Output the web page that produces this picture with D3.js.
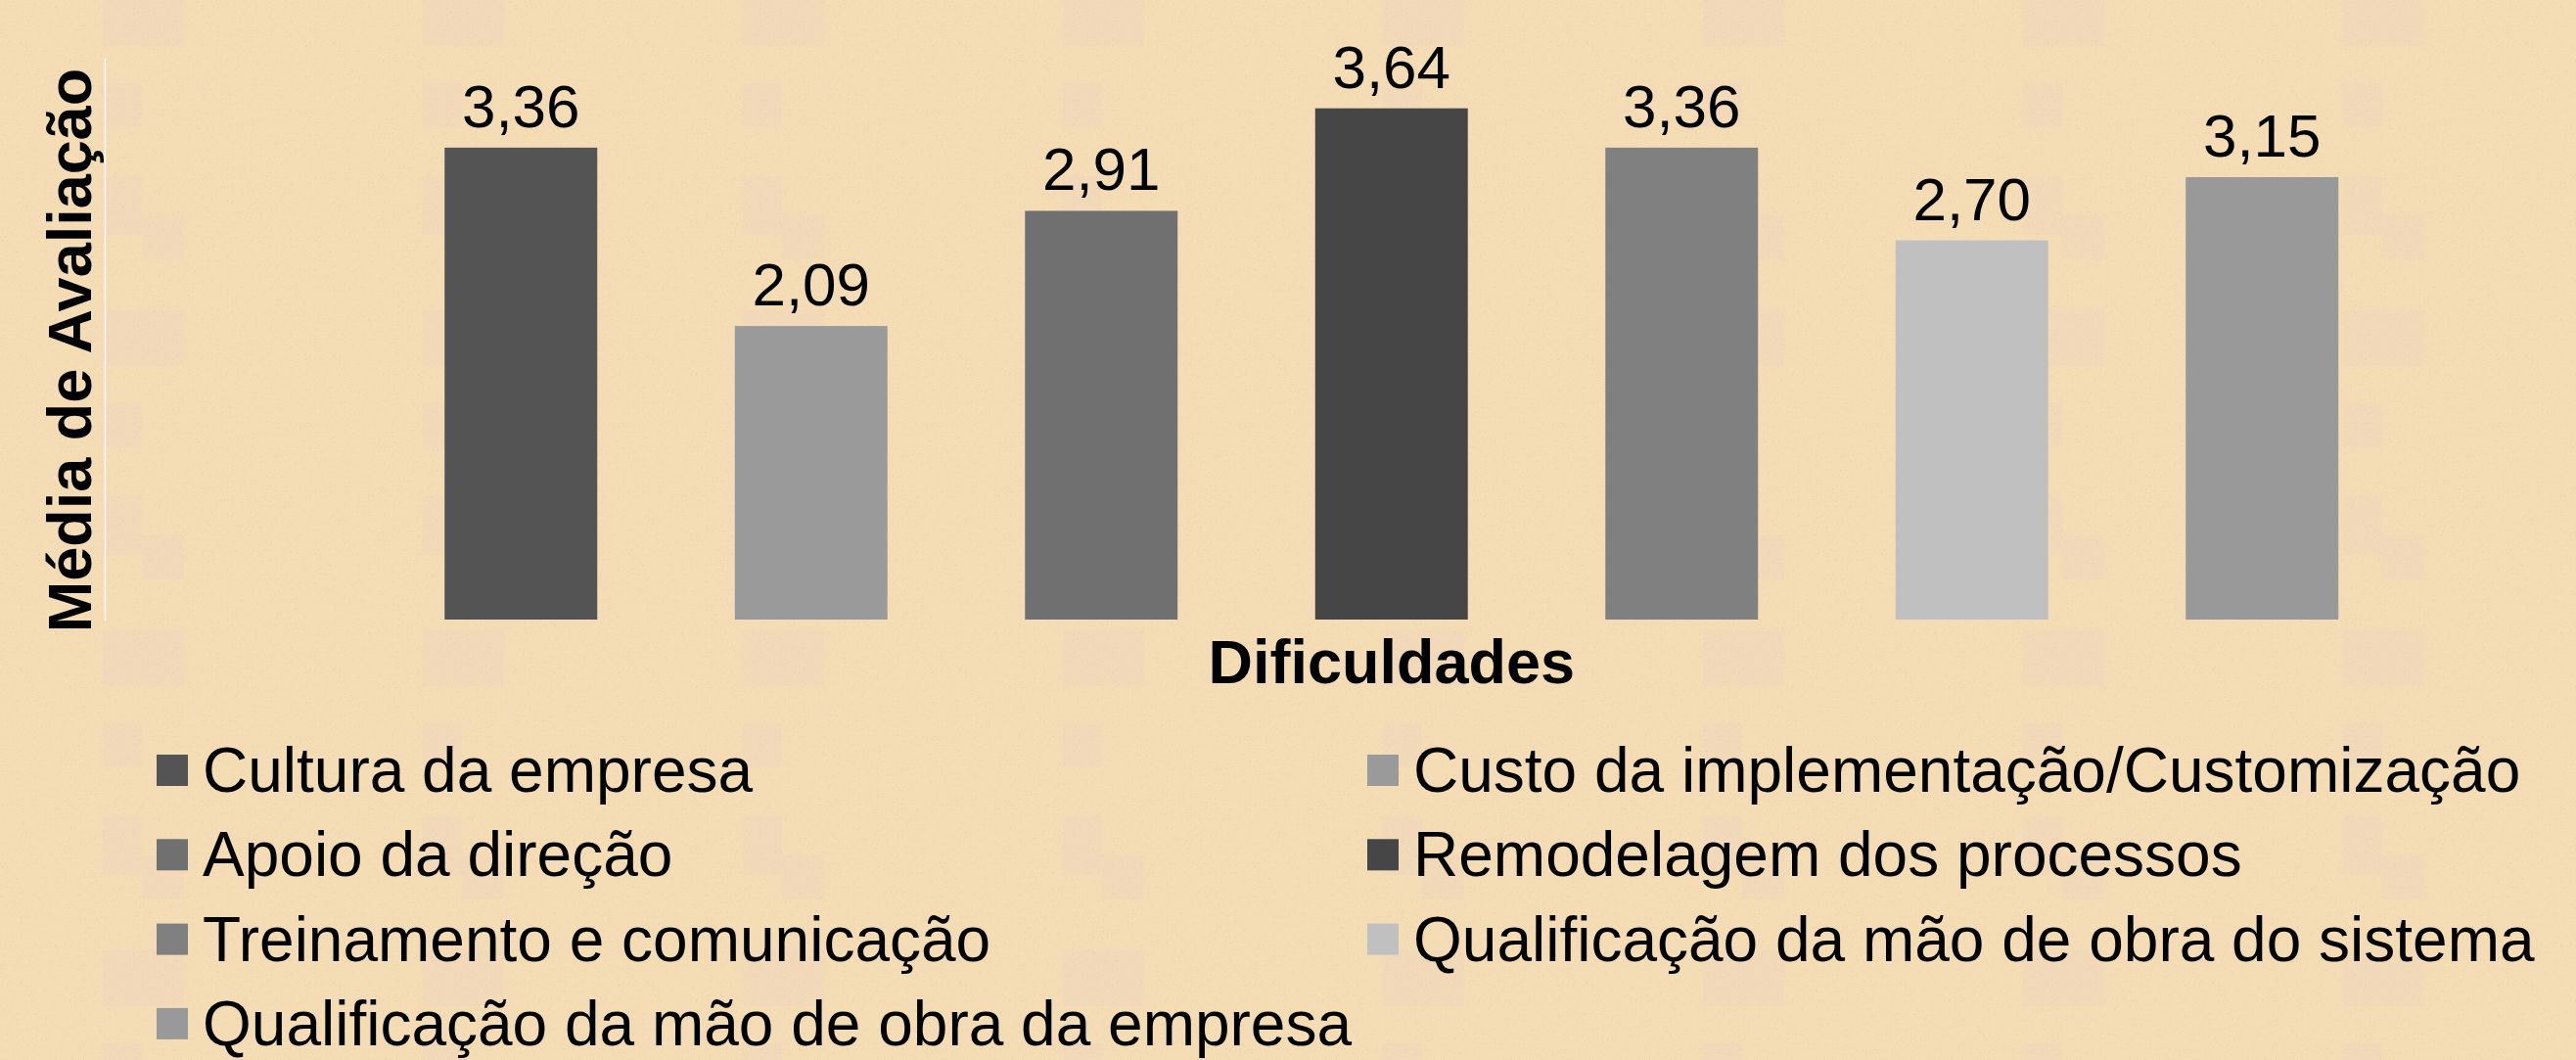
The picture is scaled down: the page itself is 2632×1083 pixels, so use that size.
<!DOCTYPE html>
<html>
<head>
<meta charset="utf-8">
<script src="https://cdn.jsdelivr.net/npm/d3@7"></script>
<style>
  html, body { margin: 0; padding: 0; background: #f4ddb6; }
  svg { display: block; }
</style>
</head>
<body>
<svg id="chart"></svg>
<script>
// chart data: mean evaluation per difficulty
const categories = [
  "Cultura da empresa",
  "Custo da implementação/Customização",
  "Apoio da direção",
  "Remodelagem dos processos",
  "Treinamento e comunicação",
  "Qualificação da mão de obra do sistema",
  "Qualificação da mão de obra da empresa"
];
const values = [3.36, 2.09, 2.91, 3.64, 3.36, 2.70, 3.15];
const barColors = ["#545454", "#9a9a9a", "#707070", "#464646", "#808080", "#c0c0c0", "#999999"];
const yDomain = [0, 4];
const yTitle = "Média de Avaliação";
const xTitle = "Dificuldades";

const W = 2632, H = 1083;
const svg = d3.select("#chart").attr("width", W).attr("height", H);

// background: wheat paper with faint pink blotches and speckles
const defs = svg.append("defs");
const pat = defs.append("pattern")
  .attr("id", "paper")
  .attr("patternUnits", "userSpaceOnUse")
  .attr("x", 105).attr("y", -10)
  .attr("width", 327).attr("height", 327);
pat.append("rect").attr("width", 327).attr("height", 327).attr("fill", "#f4ddb6");
[[0, 0, 83, 57], [0, 95, 40, 45], [0, 190, 40, 60], [40, 230, 43, 45]].forEach(r => {
  pat.append("rect")
    .attr("x", r[0]).attr("y", r[1]).attr("width", r[2]).attr("height", r[3])
    .attr("fill", "#f0d3c0").attr("opacity", 0.4);
});

const speck = defs.append("filter").attr("id", "speck")
  .attr("x", 0).attr("y", 0).attr("width", 1).attr("height", 1);
speck.append("feTurbulence")
  .attr("type", "fractalNoise").attr("baseFrequency", 0.8)
  .attr("numOctaves", 2).attr("seed", 7).attr("result", "noise");
speck.append("feColorMatrix")
  .attr("in", "noise").attr("type", "matrix")
  .attr("values", "0 0 0 0 0.82  0 0 0 0 0.63  0 0 0 0 0.36  7 0 0 0 -4.3");

svg.append("rect").attr("width", W).attr("height", H).attr("fill", "url(#paper)");
svg.append("rect").attr("width", W).attr("height", H)
  .attr("fill", "#fff").attr("filter", "url(#speck)").attr("opacity", 0.7);

// scales
const x = d3.scaleBand()
  .domain(categories)
  .range([384, 2459.5])
  .paddingInner(0.474)
  .paddingOuter(0.237);

const y = d3.scaleLinear()
  .domain(yDomain)
  .range([633, 59]);

const fmt = v => d3.format(".2f")(v).replace(".", ",");

// y axis: only a thin white line
const yAxis = svg.append("g")
  .attr("transform", "translate(107,0)")
  .call(d3.axisLeft(y).tickValues([]).tickSizeOuter(0));
yAxis.select(".domain").attr("stroke", "#ffffff").attr("stroke-width", 1.5);

// bars
svg.append("g").selectAll("rect")
  .data(values)
  .join("rect")
  .attr("x", (d, i) => x(categories[i]))
  .attr("y", d => y(d))
  .attr("width", x.bandwidth())
  .attr("height", d => y(0) - y(d))
  .attr("fill", (d, i) => barColors[i]);

// value labels
svg.append("g").selectAll("text")
  .data(values)
  .join("text")
  .attr("x", (d, i) => x(categories[i]) + x.bandwidth() / 2)
  .attr("y", d => y(d) - 21)
  .attr("text-anchor", "middle")
  .style("font-family", "'Liberation Sans', Arial, sans-serif")
  .style("font-size", "62px")
  .attr("fill", "#000")
  .text(d => fmt(d));

// axis titles
svg.append("text")
  .attr("transform", "translate(93," + ((y(0) + y(yDomain[1])) / 2 + 12) + ") rotate(-90)")
  .attr("text-anchor", "middle")
  .style("font-family", "'Liberation Sans', Arial, sans-serif")
  .style("font-size", "63px")
  .style("font-weight", "bold")
  .text(yTitle);

svg.append("text")
  .attr("x", (x(categories[0]) + x(categories[categories.length - 1]) + x.bandwidth()) / 2)
  .attr("y", 698)
  .attr("text-anchor", "middle")
  .style("font-family", "'Liberation Sans', Arial, sans-serif")
  .style("font-size", "63px")
  .style("font-weight", "bold")
  .text(xTitle);

// legend: two columns, filled row by row
const legX = [160, 1397], legY0 = 809, legStep = 86.3, sw = 32;
const leg = svg.append("g").selectAll("g")
  .data(categories)
  .join("g")
  .attr("transform", (d, i) =>
    "translate(" + legX[i % 2] + "," + (legY0 + Math.floor(i / 2) * legStep) + ")");
leg.append("rect")
  .attr("x", 0).attr("y", -38)
  .attr("width", sw).attr("height", sw)
  .attr("fill", (d, i) => barColors[i]);
leg.append("text")
  .attr("x", 47).attr("y", 0)
  .style("font-family", "'Liberation Sans', Arial, sans-serif")
  .style("font-size", "64px")
  .attr("fill", "#000")
  .text(d => d);
</script>
</body>
</html>
